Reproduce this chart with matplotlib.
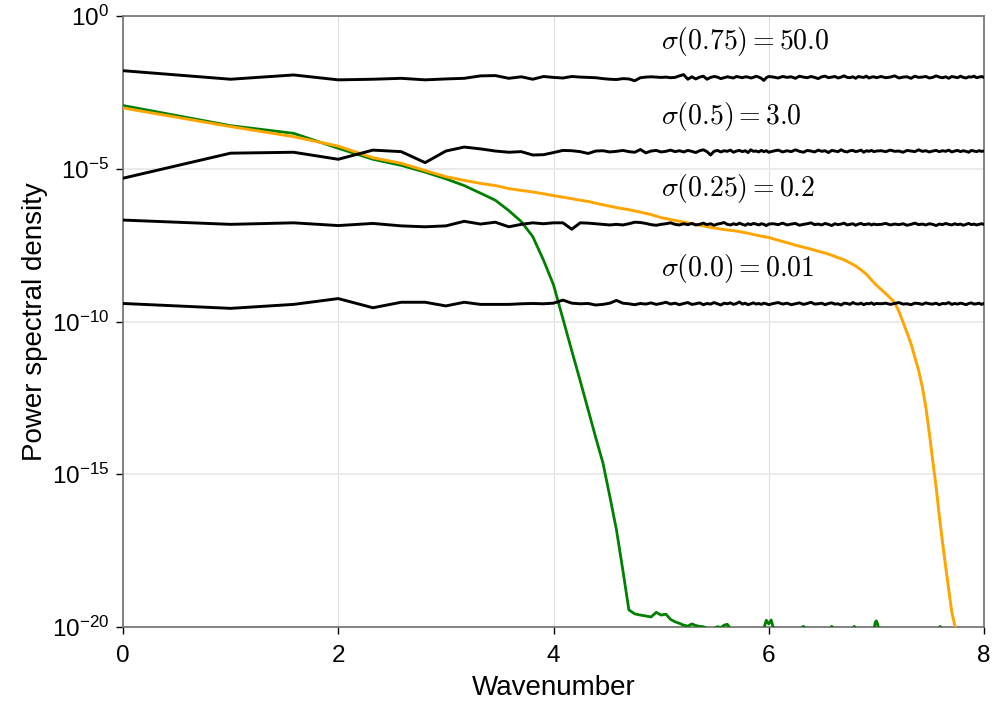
import numpy as np
import matplotlib
matplotlib.use("Agg")
import matplotlib.pyplot as plt
from matplotlib.ticker import FixedLocator, FixedFormatter, NullLocator

plt.rcParams['font.family'] = ['Liberation Sans', 'DejaVu Sans']

# ---------------- data (log10 of power spectral density) ----------------
# wavenumber index n; plotted on a log2 axis (axis value = log2 n)
noise_n = list(range(1, 65)) + list(range(66, 129, 2)) + list(range(132, 257, 4))

noise_s075 = [
    -1.79, -2.07, -1.93, -2.09, -2.07, -2.04, -2.09, -2.06, -2.04, -1.96, -1.95, -2.04,
    -1.99, -2.07, -1.98, -2.01, -2.03, -1.98, -2.00, -2.01, -2.02, -2.05, -2.07, -2.08,
    -2.05, -2.06, -2.12, -2.02, -2.00, -1.99, -2.00, -2.01, -2.00, -2.02, -2.01, -1.96,
    -1.92, -2.07, -1.99, -2.06, -2.00, -1.97, -2.07, -2.01, -1.98, -2.00, -2.05, -2.02,
    -1.99, -2.01, -2.03, -1.98, -2.00, -2.02, -1.99, -2.00, -2.03, -2.01, -1.97, -2.00, -2.04, -2.11, -2.02, -1.98,
    -2.00, -2.03, -1.98, -2.01, -1.99, -2.04, -1.97, -2.00, -2.02, -1.98, -2.01, -2.05, -1.99, -1.97, -2.02, -2.00,
    -1.98, -2.03, -2.00, -1.96, -2.01, -2.02, -1.99, -2.04, -1.98, -2.00, -2.01, -1.97, -2.03, -2.00, -1.99, -2.02,
    -1.98, -2.02, -2.00, -1.96, -2.03, -2.00, -1.99, -2.04, -1.97, -2.01, -2.00, -1.98, -2.03, -2.01, -1.96, -2.00,
    -2.02, -1.99, -2.04, -1.98, -2.00, -2.02, -1.97, -2.01, -2.03, -1.99, -2.00, -1.97, -2.02, -2.00, -1.98, -2.01,
]
noise_s050 = [
    -5.31, -4.49, -4.46, -4.69, -4.39, -4.44, -4.80, -4.42, -4.29, -4.35, -4.42, -4.46,
    -4.44, -4.55, -4.54, -4.47, -4.40, -4.41, -4.44, -4.50, -4.42, -4.41, -4.45, -4.43,
    -4.40, -4.44, -4.46, -4.37, -4.48, -4.42, -4.40, -4.45, -4.43, -4.39, -4.44, -4.41,
    -4.45, -4.40, -4.43, -4.47, -4.41, -4.38, -4.44, -4.55, -4.43, -4.40, -4.45, -4.41,
    -4.43, -4.39, -4.46, -4.42, -4.40, -4.44, -4.41, -4.47, -4.38, -4.43, -4.42, -4.45, -4.40, -4.44, -4.41, -4.46,
    -4.42, -4.39, -4.45, -4.41, -4.44, -4.38, -4.43, -4.46, -4.40, -4.42, -4.45, -4.39, -4.43, -4.41, -4.47, -4.40,
    -4.42, -4.44, -4.38, -4.43, -4.45, -4.41, -4.40, -4.44, -4.42, -4.39, -4.46, -4.41, -4.43, -4.40, -4.44, -4.42,
    -4.41, -4.44, -4.39, -4.43, -4.42, -4.46, -4.40, -4.42, -4.44, -4.38, -4.43, -4.41, -4.45, -4.42, -4.40, -4.44,
    -4.41, -4.43, -4.39, -4.45, -4.42, -4.40, -4.44, -4.41, -4.43, -4.46, -4.40, -4.42, -4.44, -4.41, -4.43, -4.42,
]
noise_s025 = [
    -6.68, -6.82, -6.77, -6.86, -6.79, -6.87, -6.90, -6.87, -6.72, -6.81, -6.75, -6.90,
    -6.82, -6.77, -6.80, -6.77, -6.77, -6.98, -6.77, -6.78, -6.80, -6.82, -6.84, -6.82,
    -6.84, -6.80, -6.75, -6.76, -6.79, -6.83, -6.85, -6.82, -6.80, -6.77, -6.82, -6.84,
    -6.80, -6.83, -6.79, -6.84, -6.82, -6.78, -6.83, -6.80, -6.85, -6.81, -6.79, -6.76,
    -6.82, -6.84, -6.80, -6.83, -6.78, -6.82, -6.85, -6.80, -6.83, -6.79, -6.81, -6.84, -6.80, -6.82, -6.86, -6.81,
    -6.80, -6.83, -6.78, -6.84, -6.81, -6.79, -6.85, -6.82, -6.80, -6.77, -6.83, -6.81, -6.84, -6.79, -6.82, -6.86,
    -6.80, -6.83, -6.81, -6.78, -6.84, -6.82, -6.80, -6.85, -6.81, -6.79, -6.83, -6.82, -6.80, -6.84, -6.81, -6.83,
    -6.82, -6.79, -6.84, -6.81, -6.83, -6.80, -6.85, -6.82, -6.78, -6.83, -6.81, -6.84, -6.80, -6.82, -6.86, -6.81,
    -6.83, -6.79, -6.82, -6.84, -6.80, -6.83, -6.81, -6.85, -6.82, -6.79, -6.83, -6.81, -6.84, -6.82, -6.80, -6.82,
]
noise_s000 = [
    -9.41, -9.57, -9.44, -9.25, -9.55, -9.37, -9.37, -9.49, -9.37, -9.44, -9.44, -9.44,
    -9.42, -9.41, -9.42, -9.40, -9.30, -9.40, -9.42, -9.41, -9.46, -9.44, -9.40, -9.31,
    -9.40, -9.42, -9.45, -9.41, -9.43, -9.39, -9.44, -9.41, -9.37, -9.43, -9.40, -9.45,
    -9.41, -9.38, -9.44, -9.42, -9.39, -9.45, -9.41, -9.43, -9.38, -9.42, -9.46, -9.40,
    -9.42, -9.39, -9.44, -9.41, -9.36, -9.43, -9.40, -9.45, -9.42, -9.39, -9.43, -9.41, -9.44, -9.40, -9.42, -9.45,
    -9.41, -9.38, -9.43, -9.40, -9.45, -9.42, -9.39, -9.44, -9.41, -9.37, -9.43, -9.42, -9.40, -9.45, -9.41, -9.39,
    -9.43, -9.42, -9.46, -9.40, -9.41, -9.44, -9.38, -9.42, -9.43, -9.40, -9.45, -9.41, -9.42, -9.39, -9.44, -9.41,
    -9.42, -9.40, -9.44, -9.41, -9.38, -9.43, -9.42, -9.45, -9.40, -9.41, -9.44, -9.39, -9.42, -9.43, -9.40, -9.45,
    -9.41, -9.42, -9.38, -9.44, -9.41, -9.43, -9.40, -9.42, -9.45, -9.41, -9.39, -9.43, -9.42, -9.40, -9.44, -9.41,
]

green_n = list(range(1, 51)) + [
    52, 56, 60, 62, 63, 64, 65, 66, 68, 72, 78, 80, 82, 88, 94, 96, 98, 104, 109, 111,
    113, 120, 126, 127, 128, 129, 130, 140, 160, 180, 191, 193, 195, 210, 230, 256]
green_log = [
    -2.93, -3.59, -3.84, -4.33, -4.69, -4.89, -5.11, -5.33, -5.55, -5.80,
    -6.03, -6.37, -6.73, -7.22, -7.99, -8.80, -9.91, -10.96, -11.94, -12.89,
    -13.80, -14.63, -15.73, -16.82, -18.13, -19.44, -19.57, -19.61, -19.64, -19.67,
    -19.52, -19.61, -19.58, -19.75, -19.83, -19.88, -19.94, -19.97, -19.90, -19.95,
    -19.98, -19.99, -20.05, -20.10, -20.05, -19.99, -20.02, -19.94, -19.91, -20.05,
    -20.2, -20.3, -20.2, -20.05, -19.78, -19.90, -19.77, -20.05, -20.3, -20.4,
    -20.1, -19.98, -20.1, -20.4, -20.1, -19.98, -20.1, -20.4, -20.1, -19.98,
    -20.1, -20.4, -20.1, -19.85, -19.80, -19.90, -20.1, -20.5, -20.5, -20.4,
    -20.1, -19.98, -20.1, -20.5, -20.5, -20.5,
]

orange_n = list(range(1, 21)) + list(range(22, 33, 2)) + list(range(36, 257, 4))
orange_log = [
    -3.01, -3.62, -3.95, -4.26, -4.64, -4.82, -5.06, -5.26, -5.38, -5.48,
    -5.55, -5.65, -5.71, -5.76, -5.82, -5.88, -5.93, -5.98, -6.03, -6.07,
    -6.18, -6.27, -6.34, -6.42, -6.50, -6.60,
    -6.72, -6.82, -6.92, -6.99, -7.04, -7.11, -7.19, -7.25, -7.34, -7.42,
    -7.50, -7.57, -7.63, -7.70, -7.76, -7.83, -7.91, -7.98, -8.08, -8.18,
    -8.31, -8.45, -8.64, -8.81, -8.95, -9.09, -9.23, -9.38, -9.67, -10.02,
    -10.37, -10.73, -11.17, -11.60, -12.13, -12.80, -13.65, -14.55, -15.40, -16.38,
    -17.23, -18.02, -18.78, -19.51, -19.93, -20.40, -20.9, -21.4, -21.9, -22.4,
    -22.9, -23.4, -23.9, -24.4, -24.9, -25.4,
]

labels = [r'$\sigma(0.75) = 50.0$', r'$\sigma(0.5) = 3.0$',
          r'$\sigma(0.25) = 0.2$', r'$\sigma(0.0) = 0.01$']
label_log_y = [-0.84, -3.30, -5.64, -8.26]
label_n = 32

xtick_n = [1, 4, 16, 64, 256]
xtick_labels = ['0', '2', '4', '6', '8']
ytick_exp = [0, -5, -10, -15, -20]
ytick_labels = [r'$\mathdefault{10^{%d}}$' % e for e in ytick_exp]

# ---------------- figure ----------------
fig = plt.figure(figsize=(10, 7.2), dpi=100)
ax = fig.add_axes([0.123, 1 - 627 / 720, (984 - 123) / 1000, (627 - 16) / 720])

ax.plot(green_n, 10.0 ** np.array(green_log), color='green', lw=2.0, zorder=3)
ax.plot(orange_n, 10.0 ** np.array(orange_log), color='orange', lw=2.1, zorder=3)
for series in (noise_s075, noise_s050, noise_s025, noise_s000):
    ax.plot(noise_n, 10.0 ** np.array(series), color='black', lw=2.1, zorder=4)

for lab, ly in zip(labels, label_log_y):
    ax.text(label_n, 10.0 ** ly, lab, fontsize=20, math_fontfamily='cm',
            ha='left', va='center', zorder=5)

ax.set_xscale('log', base=2)
ax.set_yscale('log')
ax.set_xlim(1, 256)
ax.set_ylim(1e-20, 1)
ax.xaxis.set_major_locator(FixedLocator(xtick_n))
ax.xaxis.set_major_formatter(FixedFormatter(xtick_labels))
ax.xaxis.set_minor_locator(NullLocator())
ax.yaxis.set_major_locator(FixedLocator([10.0 ** e for e in ytick_exp]))
ax.yaxis.set_major_formatter(FixedFormatter(ytick_labels))
ax.yaxis.set_minor_locator(NullLocator())

ax.tick_params(axis='both', direction='out', length=5, width=1.0, color='black',
               labelsize=17.5)
ax.tick_params(axis='x', pad=8)
ax.tick_params(axis='y', pad=5)
ax.grid(axis='x', color='#dddddd', lw=0.8, zorder=0)
ax.grid(axis='y', color='#ebebeb', lw=1.4, zorder=0)
ax.set_axisbelow(True)
for sp in ax.spines.values():
    sp.set_color('#707070')
    sp.set_linewidth(1.2)

ax.set_xlabel('Wavenumber', fontsize=20, labelpad=6)
ax.set_ylabel('Power spectral density', fontsize=20, labelpad=3)

fig.savefig('out.png', dpi=100)
